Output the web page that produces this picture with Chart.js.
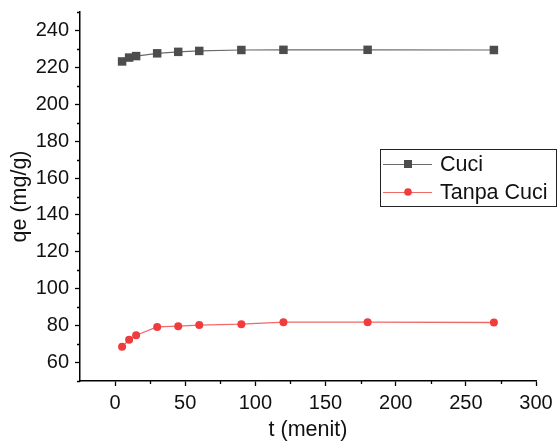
<!DOCTYPE html>
<html>
<head>
<meta charset="utf-8">
<script src="https://cdn.jsdelivr.net/npm/chart.js@4"></script>
<style>
  html, body { margin: 0; padding: 0; background: #fff; }
  #wrap { width: 558px; height: 443px; }
</style>
</head>
<body>
<div id="wrap"><canvas id="kinetika"></canvas></div>
<script>
// Waktu kontak (menit)
const waktu = [5, 10, 15, 30, 45, 60, 90, 120, 180, 270];
// qe (mg/g)
const qeCuci = [223.2, 225.3, 226.1, 227.6, 228.4, 228.9, 229.4, 229.5, 229.5, 229.4];
const qeTanpaCuci = [68.5, 72.4, 74.8, 79.3, 79.7, 80.3, 80.8, 81.9, 81.9, 81.7];

const xTicks = [0, 50, 100, 150, 200, 250, 300];
const yTicks = [60, 80, 100, 120, 140, 160, 180, 200, 220, 240];
const xMinor = [25, 75, 125, 175, 225, 275];
const yMinor = [50, 70, 90, 110, 130, 150, 170, 190, 210, 230, 250];

const FONT = 'Arial, "Liberation Sans", sans-serif';
const axisColor = '#000';

function points(ys) {
    return waktu.map((t, i) => ({ x: t, y: ys[i] }));
}

// minor ticks + legend box drawn by hand
const extras = {
    id: 'extras',
    afterDraw(chart) {
        const ctx = chart.ctx;
        const xs = chart.scales.x, ys = chart.scales.y;
        ctx.save();
        ctx.strokeStyle = axisColor;
        ctx.lineWidth = 1.3;
        ctx.beginPath();
        xMinor.forEach(v => {
            const px = Math.round(xs.getPixelForValue(v)) + 0.5;
            ctx.moveTo(px, xs.top);
            ctx.lineTo(px, xs.top + 3);
        });
        yMinor.forEach(v => {
            const py = Math.round(ys.getPixelForValue(v)) + 0.5;
            ctx.moveTo(ys.right, py);
            ctx.lineTo(ys.right - 3, py);
        });
        ctx.stroke();

        // legend
        const bx = 380.5, by = 149.5, bw = 176, bh = 57;
        ctx.lineWidth = 1;
        ctx.strokeStyle = '#222';
        ctx.strokeRect(bx, by, bw, bh);
        const rows = [
            { label: 'Cuci', ds: chart.data.datasets[0], y: 164 },
            { label: 'Tanpa Cuci', ds: chart.data.datasets[1], y: 192 }
        ];
        rows.forEach(r => {
            ctx.strokeStyle = r.ds.borderColor;
            ctx.lineWidth = 1;
            ctx.beginPath();
            ctx.moveTo(383, r.y + 0.5);
            ctx.lineTo(432, r.y + 0.5);
            ctx.stroke();
            ctx.fillStyle = r.ds.pointBackgroundColor;
            if (r.ds.pointStyle === 'rect') {
                ctx.fillRect(404, r.y - 4, 8, 8);
            } else {
                ctx.beginPath();
                ctx.arc(408, r.y, 3.8, 0, Math.PI * 2);
                ctx.fill();
            }
            ctx.fillStyle = '#111';
            ctx.font = '21.5px ' + FONT;
            ctx.textBaseline = 'middle';
            ctx.textAlign = 'left';
            ctx.fillText(r.label, 440, r.y + 1);
        });
        ctx.restore();
    }
};

new Chart(document.getElementById('kinetika'), {
    type: 'line',
    data: {
        datasets: [{
            label: 'Cuci',
            data: points(qeCuci),
            borderColor: '#6b6b6b',
            borderWidth: 1.2,
            pointStyle: 'rect',
            pointRadius: 6,
            pointBackgroundColor: '#4d4d4d',
            pointBorderWidth: 0,
            tension: 0
        }, {
            label: 'Tanpa Cuci',
            data: points(qeTanpaCuci),
            borderColor: '#f06a6a',
            borderWidth: 1.3,
            pointStyle: 'circle',
            pointRadius: 4,
            pointBackgroundColor: '#f03c3c',
            pointBorderWidth: 0,
            tension: 0
        }]
    },
    plugins: [extras],
    options: {
        responsive: true,
        maintainAspectRatio: false,
        animation: false,
        layout: { padding: { top: 12, right: 22, left: 0, bottom: 0 } },
        plugins: {
            legend: { display: false },
            tooltip: { enabled: false }
        },
        scales: {
            x: {
                type: 'linear',
                min: -25,
                max: 300,
                afterBuildTicks: s => { s.ticks = xTicks.map(v => ({ value: v })); },
                afterFit: s => { s.height = 62; },
                grid: { drawOnChartArea: false, tickLength: 5, tickColor: axisColor, tickWidth: 1.3 },
                border: { color: axisColor, width: 1.5 },
                ticks: { color: '#111', font: { family: FONT, size: 20 }, padding: 5, maxRotation: 0 },
                title: { display: true, text: 't (menit)', color: '#111', font: { family: FONT, size: 21.5 }, padding: { top: 0, bottom: 0 } }
            },
            y: {
                min: 50,
                max: 250,
                afterBuildTicks: s => { s.ticks = yTicks.map(v => ({ value: v })); },
                afterFit: s => { s.width = 80; s.paddingTop = 0; s.paddingBottom = 0; },
                grid: { drawOnChartArea: false, tickLength: 5, tickColor: axisColor, tickWidth: 1.3 },
                border: { color: axisColor, width: 1.5 },
                ticks: { color: '#111', font: { family: FONT, size: 20 }, padding: 6 },
                title: { display: true, text: 'qe (mg/g)', color: '#111', font: { family: FONT, size: 21.5 }, padding: { top: 7, bottom: 0 } }
            }
        }
    }
});
</script>
</body>
</html>
